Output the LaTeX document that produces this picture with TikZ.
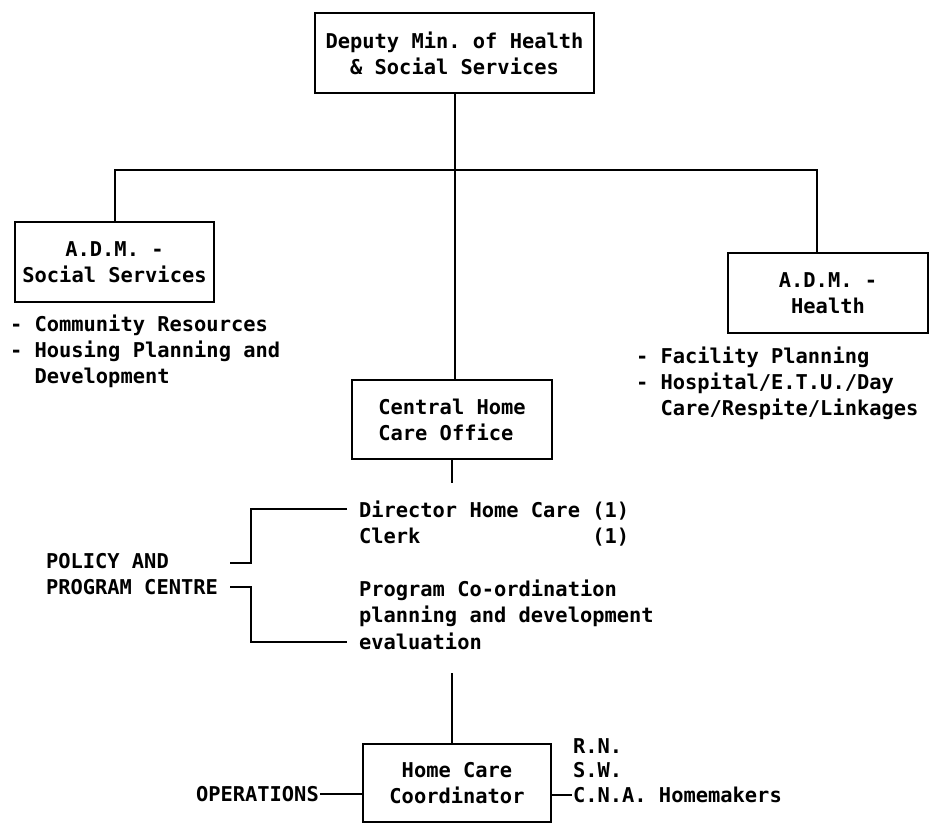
\documentclass[tikz,border=0pt]{standalone}
\usepackage{fontspec}
\setmonofont{DejaVu Sans Mono}
\begin{document}
\begin{tikzpicture}[x=1pt,y=-1pt,line width=2pt,
  txt/.style={font=\ttfamily\bfseries\fontsize{20.4}{26}\selectfont, inner sep=0pt},
  box/.style={txt, draw, align=center}]
\useasboundingbox (0,0) rectangle (936,835);

% boxes
\node[box, minimum width=279pt, minimum height=80pt] (top) at (454.5,53) {Deputy Min. of Health\\\& Social Services};
\node[box, minimum width=199pt, minimum height=80pt] (adms) at (114.5,262) {A.D.M. -\\Social Services};
\node[box, minimum width=200pt, minimum height=80pt] (admh) at (828,293) {A.D.M. -\\Health};
\node[box, align=left, minimum width=200pt, minimum height=79pt] (cho) at (452,419.5) {Central Home\\Care Office};
\node[box, minimum width=188pt, minimum height=78pt] (hcc) at (457,783) {Home Care\\Coordinator};

% lists
\node[txt, align=left, anchor=west] (lsoc) at (9,351) {- Community Resources\\- Housing Planning and\\\phantom{- }Development};
\node[txt, align=left, anchor=west] (lhea) at (635,383) {- Facility Planning\\- Hospital/E.T.U./Day\\\phantom{- }Care/Respite/Linkages};
\node[txt, align=left, anchor=west] (pol) at (45,574.5) {POLICY AND\\PROGRAM CENTRE};
\node[txt, align=left, anchor=west, font=\ttfamily\bfseries\fontsize{20.4}{26.4}\selectfont] (dir) at (358,575)
  {Director Home Care (1)\\\rlap{Clerk}\hphantom{Director Home Care }(1)\\\mbox{}\\Program Co-ordination\\planning and development\\evaluation};
\node[txt, anchor=west] (ops) at (195,794) {OPERATIONS};
\node[txt, align=left, anchor=west, font=\ttfamily\bfseries\fontsize{20.4}{24.5}\selectfont] (staff) at (572,770.5) {R.N.\\S.W.\\C.N.A. Homemakers};

% coordinates
\coordinate (bt1) at (347,509);
\coordinate (bk1) at (251,509);
\coordinate (bs1) at (230,563);
\coordinate (bs2) at (230,587);
\coordinate (bk2) at (251,642);
\coordinate (bt2) at (347,642);
\coordinate (vtop) at (452,673);
\coordinate (cna) at (572,795);

% connectors
\draw (top.south) -- (top.south |- cho.north);
\draw (adms.north) -- ++(0,-51) -| ([xshift=-11pt]admh.north);
\draw (cho.south) -- ++(0,23);
\draw (bt1) -- (bk1) |- (bs1);
\draw (bs2) -| (bk2) -- (bt2);
\draw (vtop) -- (vtop |- hcc.north);
\draw (ops.east) -- (ops.east -| hcc.west);
\draw (cna -| hcc.east) -- (cna);
\end{tikzpicture}
\end{document}
